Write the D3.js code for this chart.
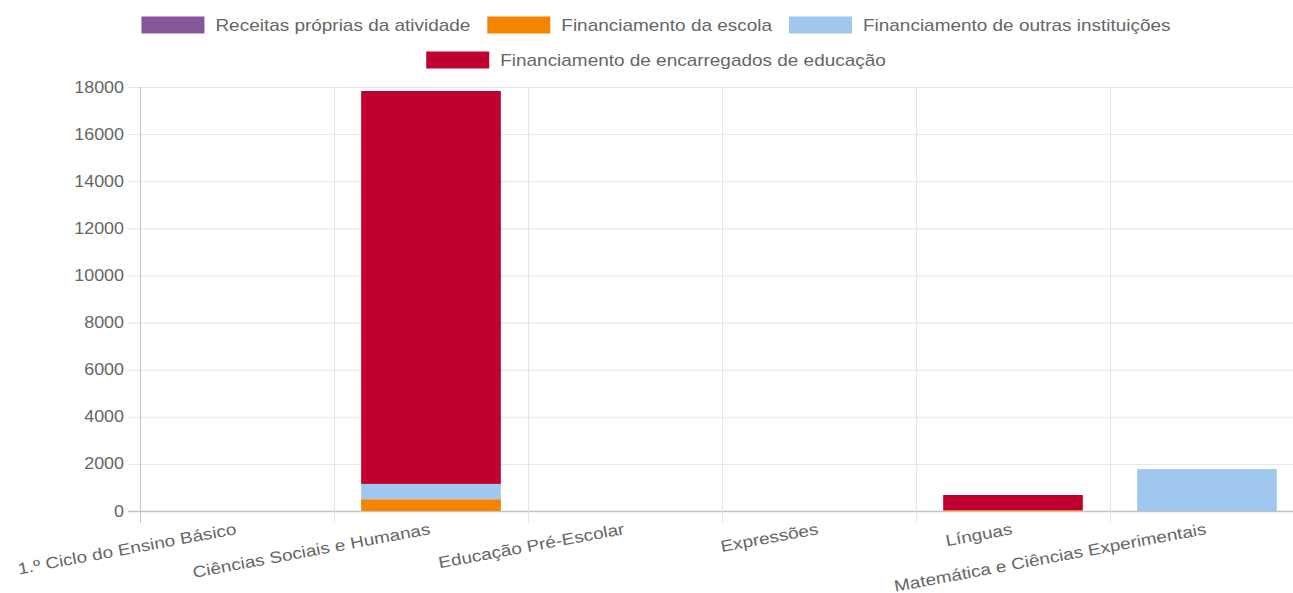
<!DOCTYPE html>
<meta charset="utf-8">
<title>Financiamento por área</title>
<style>
    body { margin: 0; background: #fff; }
    svg { font-family: "Liberation Sans", Arial, sans-serif; }
    .lbl { fill: #666; font-size: 16px; }
</style>

<body>
    <script src="https://cdn.jsdelivr.net/npm/d3@7/dist/d3.min.js"></script>
    <script>
        // data
        var categories = ["1.º Ciclo do Ensino Básico", "Ciências Sociais e Humanas", "Educação Pré-Escolar",
            "Expressões", "Línguas", "Matemática e Ciências Experimentais"];
        var seriesNames = ["Receitas próprias da atividade", "Financiamento da escola",
            "Financiamento de outras instituições", "Financiamento de encarregados de educação"];
        var receitas = [0, 0, 0, 0, 0, 0];
        var escola = [0, 500, 0, 0, 40, 0];
        var outras = [0, 650, 0, 0, 0, 1780];
        var encarregados = [0, 16680, 0, 0, 640, 0];
        var yTicks = [0, 2000, 4000, 6000, 8000, 10000, 12000, 14000, 16000, 18000];
        var colors = ["#87559a", "#f58400", "#a0c8ee", "#c00031"];

        var width = 1293,
            height = 593;
        var plotLeft = 140, plotRight = 1304, plotTop = 87, plotBottom = 511;
        var sx = 1.185; // labels in the picture are drawn a bit wide

        var svg = d3.select("body").append("svg")
            .attr("width", width)
            .attr("height", height);

        var x = d3.scaleBand().domain(categories).range([plotLeft, plotRight]).padding(0);
        var y = d3.scaleLinear().domain([0, 18000]).range([plotBottom, plotTop]);

        // grid
        var grid = svg.append("g");
        grid.selectAll(".h").data(yTicks).enter().append("line")
            .attr("x1", plotLeft - 12).attr("x2", plotRight)
            .attr("y1", function (d) { return y(d) + 0.5; })
            .attr("y2", function (d) { return y(d) + 0.5; })
            .style("stroke", function (d) { return d === 0 ? "#c4c4c4" : "#e6e6e6"; })
            .style("stroke-width", function (d) { return d === 0 ? 1.5 : 1; });
        grid.selectAll(".v").data(categories).enter().append("line")
            .attr("x1", function (d) { return x(d) + 0.5; })
            .attr("x2", function (d) { return x(d) + 0.5; })
            .attr("y1", plotTop).attr("y2", plotBottom + 12)
            .style("stroke", function (d, i) { return i === 0 ? "#c4c4c4" : "#e6e6e6"; });

        // y labels
        svg.append("g").selectAll("text").data(yTicks).enter().append("text")
            .attr("class", "lbl")
            .attr("transform", function (d) {
                return "translate(" + (plotLeft - 16) + "," + y(d) + ") scale(1.12,1)";
            })
            .attr("dy", "0.35em")
            .attr("text-anchor", "end")
            .text(function (d) { return d; });

        // stacked bars
        var rows = categories.map(function (c, i) {
            return { cat: c, s0: receitas[i], s1: escola[i], s2: outras[i], s3: encarregados[i] };
        });
        var stack = d3.stack().keys(["s0", "s1", "s2", "s3"])(rows);
        var bw = x.bandwidth() * 0.72;
        svg.append("g").selectAll("g").data(stack).enter().append("g")
            .style("fill", function (d, i) { return colors[i]; })
            .selectAll("rect").data(function (d) { return d; }).enter().append("rect")
            .attr("x", function (d) { return x(d.data.cat) + (x.bandwidth() - bw) / 2; })
            .attr("width", bw)
            .attr("y", function (d) { return y(d[1]); })
            .attr("height", function (d) { return y(d[0]) - y(d[1]); });

        // x labels
        svg.append("g").selectAll("text").data(categories).enter().append("text")
            .attr("class", "lbl")
            .attr("text-anchor", "end")
            .attr("transform", function (d) {
                return "translate(" + (x(d) + x.bandwidth() / 2) + "," + (plotBottom + 23) + ") rotate(-10.5) scale(" + sx + ",1)";
            })
            .text(function (d) { return d; });

        // legend, centred like the original canvas
        var legendRows = [[0, 1, 2], [3]];
        var legendY = [25, 60];
        legendRows.forEach(function (row, r) {
            var g = svg.append("g");
            var xpos = 0;
            row.forEach(function (si) {
                var item = g.append("g").attr("transform", "translate(" + xpos + ",0)");
                item.append("rect")
                    .attr("width", 63).attr("height", 17)
                    .attr("y", legendY[r] - 8.5)
                    .style("fill", colors[si]);
                var t = item.append("text")
                    .attr("class", "lbl")
                    .attr("transform", "translate(74," + legendY[r] + ") scale(" + sx + ",1)")
                    .attr("dy", "0.35em")
                    .text(seriesNames[si]);
                xpos += 74 + t.node().getComputedTextLength() * sx + 17;
            });
            var total = xpos - 17;
            g.attr("transform", "translate(" + (656 - total / 2) + ",0)");
        });
    </script>
